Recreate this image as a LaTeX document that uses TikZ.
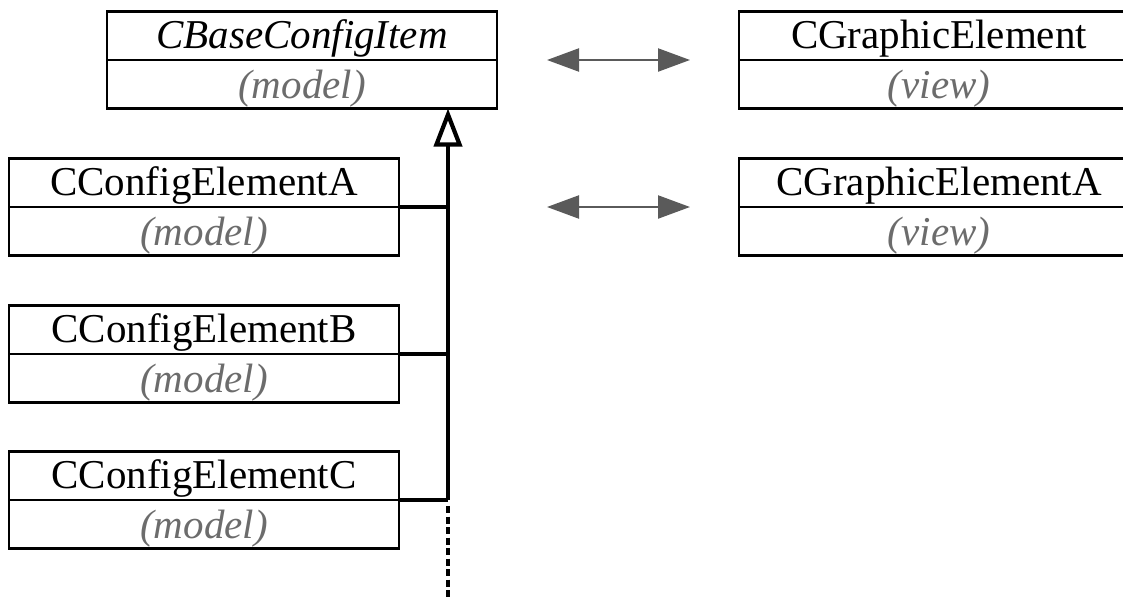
\documentclass[tikz,border=0pt]{standalone}
\usepackage{fontspec}
\setmainfont{Liberation Serif}
\usetikzlibrary{arrows.meta}
\definecolor{notegray}{HTML}{6C6C6C}
\definecolor{linkgray}{HTML}{5A5A5A}
\begin{document}
\begin{tikzpicture}[x=1pt,y=-1pt,
  classbox/.style={draw=black,line width=2.9pt,minimum width=390pt,minimum height=97pt,inner sep=0pt,outer sep=0pt},
  wideclass/.style={classbox,minimum width=400pt},
  divider/.style={line width=2.9pt},
  cname/.style={font=\fontsize{41}{49}\selectfont,anchor=base,inner sep=0pt},
  cnote/.style={font=\fontsize{41}{49}\selectfont\itshape,text=notegray,anchor=base,inner sep=0pt},
  pairlink/.style={draw=linkgray,line width=2.2pt,{Triangle[length=32pt,width=23pt]}-{Triangle[length=32pt,width=23pt]}},
  inherit/.style={line width=4.4pt,-{Triangle[open,length=38pt,width=28pt,line width=4.2pt]}},
  branch/.style={line width=3.4pt},
  continued/.style={line width=4.4pt,dash pattern=on 7pt off 3.5pt}]
\useasboundingbox (0,0) rectangle (1123,597);
\clip (0,0) rectangle (1123,597);

% model classes
\node[classbox] (base) at (302,60) {};
\node[classbox] (cA) at (204,207) {};
\node[classbox] (cB) at (204,354) {};
\node[classbox] (cC) at (204,500) {};
% view classes
\node[wideclass] (gfx) at (939,60) {};
\node[wideclass] (gfxA) at (939,207) {};

% compartment dividers
\foreach \b in {base,cA,cB,cC,gfx,gfxA}
  \draw[divider] (\b.west) -- (\b.east);

% class names and roles (baselines just above each compartment's lower edge)
\node[cname] (baseT) at ([yshift=12pt]base.center) {\itshape CBaseConfigItem};
\node[cnote] (baseN) at ([yshift=10pt]base.south) {(model)};
\node[cname] (cAT) at ([yshift=12pt]cA.center) {CConfigElementA};
\node[cnote] (cAN) at ([yshift=10pt]cA.south) {(model)};
\node[cname] (cBT) at ([yshift=12pt]cB.center) {CConfigElementB};
\node[cnote] (cBN) at ([yshift=10pt]cB.south) {(model)};
\node[cname] (cCT) at ([yshift=12pt]cC.center) {CConfigElementC};
\node[cnote] (cCN) at ([yshift=10pt]cC.south) {(model)};
\node[cname] (gfxT) at ([yshift=12pt]gfx.center) {CGraphicElement};
\node[cnote] (gfxN) at ([yshift=10pt]gfx.south) {(view)};
\node[cname] (gfxAT) at ([yshift=12pt]gfxA.center) {CGraphicElementA};
\node[cnote] (gfxAN) at ([yshift=10pt]gfxA.south) {(view)};

% model/view pairing
\draw[pairlink] ([xshift=50pt]base.east) -- ([xshift=-49pt]gfx.west);
\draw[pairlink] ([xshift=148pt]cA.east) -- ([xshift=-49pt]gfxA.west);

% inheritance tree
\coordinate (trunk) at (448,0);
\coordinate (junC) at (cC.east -| trunk);
\coordinate (tail) at (448,600);
\draw[inherit] (junC) -- (base.south -| junC);
\draw[branch] (cA.east) -- (cA.east -| junC);
\draw[branch] (cB.east) -- (cB.east -| junC);
\draw[branch] (cC.east) -- (junC);
\draw[continued] ([yshift=-6pt]junC) -- (tail);
\end{tikzpicture}
\end{document}
